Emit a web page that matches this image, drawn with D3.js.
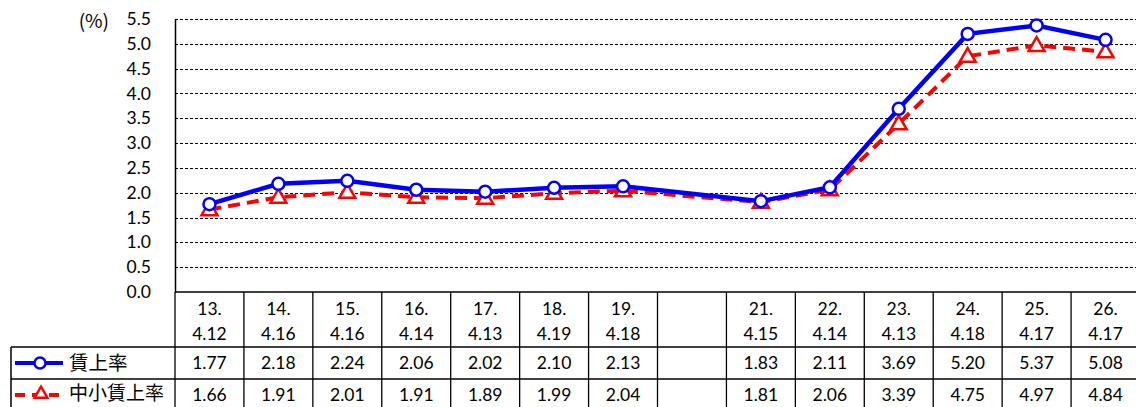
<!DOCTYPE html>
<html>
<head>
<meta charset="utf-8">
<script src="https://cdn.jsdelivr.net/npm/d3@7"></script>
<style>
  body { margin: 0; background: #fff; }
  text { font-family: Lato, "Noto Sans CJK JP", sans-serif; fill: #000; }
  .jp { font-family: "Noto Sans CJK JP", sans-serif; }
</style>
</head>
<body>
<div id="chart_wrapper"></div>
<script>
// data
var years = ["13.", "14.", "15.", "16.", "17.", "18.", "19.", "", "21.", "22.", "23.", "24.", "25.", "26."];
var dates = ["4.12", "4.16", "4.16", "4.14", "4.13", "4.19", "4.18", "", "4.15", "4.14", "4.13", "4.18", "4.17", "4.17"];
var wageRate = [1.77, 2.18, 2.24, 2.06, 2.02, 2.10, 2.13, null, 1.83, 2.11, 3.69, 5.20, 5.37, 5.08];
var smeRate = [1.66, 1.91, 2.01, 1.91, 1.89, 1.99, 2.04, null, 1.81, 2.06, 3.39, 4.75, 4.97, 4.84];
var seriesNames = ["賃上率", "中小賃上率"];
var yTicks = [0, 0.5, 1, 1.5, 2, 2.5, 3, 3.5, 4, 4.5, 5, 5.5];

var W = 1136, H = 407;
var plotL = 175, plotR = 1140, plotT = 19, plotB = 292;
var headerBottom = 347, row1Bottom = 379, row2Bottom = 412;
var fs = "17.5px";

var svg = d3.select("#chart_wrapper").append("svg").attr("width", W).attr("height", H);

var idx = d3.range(years.length);
var x = d3.scaleBand().domain(idx).range([plotL, plotR]).padding(0);
var y = d3.scaleLinear().domain([0, 5.5]).range([plotB, plotT]);

// gridlines
svg.append("g").selectAll("line")
  .data(yTicks.filter(function(d) { return d > 0; }))
  .enter().append("line")
    .attr("x1", plotL).attr("x2", W)
    .attr("y1", function(d) { return Math.round(y(d)) + 0.5; })
    .attr("y2", function(d) { return Math.round(y(d)) + 0.5; })
    .attr("stroke", "#000")
    .attr("stroke-width", 1)
    .attr("stroke-dasharray", "3,2");

// y axis
var yAxis = svg.append("g")
  .attr("transform", "translate(" + plotL + ",0)")
  .call(d3.axisLeft(y).tickValues(yTicks).tickFormat(d3.format(".1f")).tickSize(0).tickPadding(24));
yAxis.select(".domain").attr("stroke", "#000").attr("stroke-width", 1.5);
yAxis.selectAll("text").style("font-size", fs).attr("fill", "#000");

svg.append("text").attr("class", "jp").attr("x", 109).attr("y", 28).attr("text-anchor", "end")
  .style("font-size", "19px").text("(%)");

// x axis line
svg.append("line").attr("x1", plotL).attr("x2", W).attr("y1", plotB).attr("y2", plotB)
  .attr("stroke", "#000").attr("stroke-width", 1.5);

// table
var tbl = svg.append("g");
// vertical lines
tbl.selectAll(".hv").data(idx.concat([idx.length])).enter().append("line")
  .attr("x1", function(i) { return i < idx.length ? x(i) : plotR; })
  .attr("x2", function(i) { return i < idx.length ? x(i) : plotR; })
  .attr("y1", plotB).attr("y2", row2Bottom)
  .attr("stroke", "#000").attr("stroke-width", 1.3);
// horizontal lines
tbl.append("line").attr("x1", 11).attr("x2", W).attr("y1", headerBottom).attr("y2", headerBottom)
  .attr("stroke", "#000").attr("stroke-width", 1.5);
tbl.append("line").attr("x1", 11).attr("x2", W).attr("y1", row1Bottom).attr("y2", row1Bottom)
  .attr("stroke", "#000").attr("stroke-width", 1.5);
tbl.append("line").attr("x1", 11).attr("x2", 11).attr("y1", headerBottom).attr("y2", row2Bottom)
  .attr("stroke", "#000").attr("stroke-width", 1.5);

// header labels
tbl.selectAll(".yr").data(idx).enter().append("text")
  .attr("x", function(i) { return x(i) + x.bandwidth() / 2; })
  .attr("y", 315).attr("text-anchor", "middle").style("font-size", fs)
  .text(function(i) { return years[i]; });
tbl.selectAll(".dt").data(idx).enter().append("text")
  .attr("x", function(i) { return x(i) + x.bandwidth() / 2; })
  .attr("y", 340).attr("text-anchor", "middle").style("font-size", fs)
  .text(function(i) { return dates[i]; });

// value rows
[wageRate, smeRate].forEach(function(vals, r) {
  tbl.selectAll(".v" + r).data(idx).enter().append("text")
    .attr("x", function(i) { return x(i) + x.bandwidth() / 2; })
    .attr("y", r === 0 ? 369 : 401).attr("text-anchor", "middle").style("font-size", fs)
    .text(function(i) { return vals[i] == null ? "" : vals[i].toFixed(2); });
});

// legend in table
var lg1 = tbl.append("g").attr("transform", "translate(0,363)");
lg1.append("line").attr("x1", 15).attr("x2", 63).attr("y1", 0).attr("y2", 0)
  .attr("stroke", "#0000ff").attr("stroke-width", 4);
lg1.append("circle").attr("cx", 40).attr("cy", 0).attr("r", 5.5)
  .attr("fill", "#fff").attr("stroke", "#0000ff").attr("stroke-width", 2.5);
lg1.append("text").attr("class", "jp").attr("x", 69).attr("y", 7).style("font-size", "19.5px").text(seriesNames[0]);

var lg2 = tbl.append("g").attr("transform", "translate(0,395)");
lg2.append("line").attr("x1", 15).attr("x2", 60).attr("y1", 0).attr("y2", 0)
  .attr("stroke", "#ff0000").attr("stroke-width", 4).attr("stroke-dasharray", "10,7");
lg2.append("path").attr("d", d3.symbol().type(d3.symbolTriangle).size(70))
  .attr("transform", "translate(41,-1)")
  .attr("fill", "#fff").attr("stroke", "#ff0000").attr("stroke-width", 2.5);
lg2.append("text").attr("class", "jp").attr("x", 69).attr("y", 5).style("font-size", "19px").text(seriesNames[1]);

// lines
var line = d3.line()
  .x(function(d) { return x(d.i) + x.bandwidth() / 2; })
  .y(function(d) { return y(d.v); });

function pts(vals) {
  return idx.map(function(i) { return { i: i, v: vals[i] }; }).filter(function(d) { return d.v != null; });
}

svg.append("path").datum(pts(smeRate)).attr("d", line)
  .attr("fill", "none").attr("stroke", "#ff0000").attr("stroke-width", 4)
  .attr("stroke-dasharray", "12,7");
svg.append("path").datum(pts(wageRate)).attr("d", line)
  .attr("fill", "none").attr("stroke", "#0000ff").attr("stroke-width", 4.5);

svg.append("g").selectAll("path").data(pts(smeRate)).enter().append("path")
  .attr("d", d3.symbol().type(d3.symbolTriangle).size(110))
  .attr("transform", function(d) { return "translate(" + (x(d.i) + x.bandwidth() / 2) + "," + (y(d.v) + 1) + ")"; })
  .attr("fill", "#fff").attr("stroke", "#ff0000").attr("stroke-width", 2.5);

svg.append("g").selectAll("circle").data(pts(wageRate)).enter().append("circle")
  .attr("cx", function(d) { return x(d.i) + x.bandwidth() / 2; })
  .attr("cy", function(d) { return y(d.v); })
  .attr("r", 6)
  .attr("fill", "#fff").attr("stroke", "#0000ff").attr("stroke-width", 2.5);
</script>
</body>
</html>
